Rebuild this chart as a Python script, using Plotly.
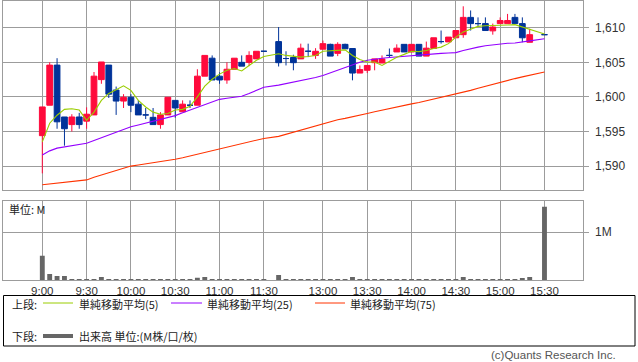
import plotly.graph_objects as go

# ---------------- data ----------------
times_am = ["9:00", "9:05", "9:10", "9:15", "9:20", "9:25", "9:30", "9:35", "9:40", "9:45",
            "9:50", "9:55", "10:00", "10:05", "10:10", "10:15", "10:20", "10:25", "10:30", "10:35",
            "10:40", "10:45", "10:50", "10:55", "11:00", "11:05", "11:10", "11:15", "11:20", "11:25",
            "11:30"]
times_pm = ["12:30", "12:35", "12:40", "12:45", "12:50", "12:55", "13:00", "13:05", "13:10", "13:15",
            "13:20", "13:25", "13:30", "13:35", "13:40", "13:45", "13:50", "13:55", "14:00", "14:05",
            "14:10", "14:15", "14:20", "14:25", "14:30", "14:35", "14:40", "14:45", "14:50", "14:55",
            "15:00", "15:05", "15:10", "15:15", "15:20", "15:30"]
times = times_am + times_pm

opens = [1594.4, 1598.8, 1604.6, 1597.1, 1596.0, 1597.1, 1596.5, 1597.4, 1602.5, 1604.6,
         1601.0, 1599.4, 1599.95, 1598.95, 1597.4, 1597.05, 1596.0, 1597.4, 1599.5, 1597.85,
         1598.8, 1598.8, 1603.0, 1605.6, 1603.0, 1602.45, 1604.0, 1605.0, 1605.0, 1605.5,
         1606.6,
         1608.0, 1605.55, 1605.7, 1605.5, 1606.6, 1606.0, 1606.9, 1607.6, 1606.3, 1607.6,
         1607.0, 1603.45, 1603.85, 1604.95, 1604.9, 1606.0, 1606.5, 1607.6, 1606.5, 1607.6,
         1605.9, 1607.0, 1608.0, 1607.95, 1608.55, 1609.0, 1611.5, 1610.6, 1610.6, 1609.55,
         1610.6, 1610.6, 1611.5, 1610.6, 1607.9, 1609.0]
highs = [1598.55, 1605.0, 1605.6, 1597.1, 1597.5, 1597.7, 1598.5, 1603.6, 1605.05, 1604.6,
         1601.5, 1600.4, 1600.4, 1599.5, 1598.4, 1598.4, 1597.8, 1599.95, 1599.5, 1599.5,
         1599.5, 1604.0, 1606.0, 1606.0, 1603.55, 1605.0, 1605.6, 1606.0, 1606.6, 1606.6,
         1606.6,
         1610.1, 1606.6, 1606.1, 1607.7, 1607.7, 1607.05, 1608.15, 1607.7, 1607.9, 1607.7,
         1607.0, 1604.55, 1604.55, 1605.5, 1606.0, 1607.0, 1607.6, 1607.6, 1607.6, 1607.6,
         1608.0, 1608.55, 1609.6, 1608.65, 1609.6, 1613.1, 1612.5, 1611.5, 1611.5, 1610.6,
         1611.5, 1612.0, 1612.0, 1611.5, 1609.85, 1609.0]
lows = [1588.95, 1598.8, 1595.4, 1592.95, 1595.0, 1595.4, 1595.4, 1597.4, 1601.9, 1599.85,
        1597.4, 1598.4, 1597.8, 1597.4, 1596.8, 1596.0, 1595.4, 1597.4, 1597.0, 1597.85,
        1598.4, 1598.8, 1603.0, 1602.45, 1601.9, 1601.9, 1604.0, 1604.45, 1604.45, 1605.5,
        1606.6,
        1604.4, 1604.55, 1603.85, 1605.5, 1605.75, 1605.5, 1606.9, 1605.9, 1605.9, 1606.95,
        1602.4, 1603.45, 1603.45, 1603.85, 1604.9, 1605.75, 1606.5, 1606.5, 1606.5, 1605.9,
        1605.9, 1607.0, 1607.7, 1607.95, 1608.55, 1608.55, 1609.6, 1610.1, 1609.6, 1609.0,
        1610.6, 1610.6, 1610.6, 1607.9, 1607.9, 1609.0]
closes = [1598.55, 1604.6, 1596.4, 1595.4, 1597.1, 1596.0, 1597.5, 1603.0, 1605.05, 1600.4,
          1599.4, 1599.95, 1598.8, 1597.4, 1597.4, 1596.0, 1597.4, 1599.95, 1598.4, 1598.95,
          1598.8, 1603.0, 1606.0, 1602.45, 1602.45, 1604.0, 1605.6, 1604.45, 1606.0, 1606.6,
          1606.6,
          1604.95, 1605.55, 1604.95, 1607.05, 1606.6, 1606.6, 1607.7, 1605.9, 1607.6, 1606.95,
          1603.45, 1603.95, 1604.55, 1605.5, 1605.5, 1606.0, 1607.05, 1606.5, 1607.6, 1605.9,
          1607.05, 1608.55, 1608.0, 1608.65, 1609.6, 1611.5, 1610.6, 1610.6, 1609.6, 1610.1,
          1611.05, 1611.05, 1610.6, 1608.55, 1609.0, 1609.0]

ma5 = [1593.5, 1596.2, 1597.35, 1598.2, 1598.3, 1598.1, 1596.6, 1597.8, 1599.5, 1600.5,
       1601.05, 1601.6, 1600.95, 1599.5, 1598.55, 1597.8, 1597.5, 1597.6, 1598.1, 1598.2,
       1598.65, 1600.0, 1601.55, 1602.55, 1603.3, 1603.85, 1604.1, 1603.75, 1604.55, 1605.3,
       1605.85,
       1606.25, 1606.0, 1605.85, 1605.75, 1605.85, 1606.0, 1606.6, 1606.7, 1606.8, 1606.8,
       1606.0, 1605.4, 1605.05, 1605.05, 1604.55, 1605.2, 1605.75, 1606.15, 1606.6, 1606.55,
       1606.7, 1607.0, 1607.2, 1607.7, 1608.65, 1609.4, 1609.85, 1610.2, 1610.3, 1610.3,
       1610.4, 1610.4, 1610.45, 1610.1, 1609.7, 1609.1]
ma25 = [1591.6, 1592.2, 1592.6, 1592.8, 1592.95, 1593.1, 1593.3, 1593.7, 1594.1, 1594.5,
        1594.9, 1595.3, 1595.7, 1595.95, 1596.2, 1596.5, 1596.75, 1597.0, 1597.3, 1597.7,
        1598.1, 1598.5, 1598.9, 1599.3, 1599.65, 1599.8, 1599.9, 1600.1, 1600.5, 1600.95,
        1601.4,
        1601.7, 1601.9, 1602.1, 1602.4, 1602.6, 1602.8, 1603.1, 1603.5, 1603.9, 1604.3,
        1604.7, 1605.0, 1605.3, 1605.5, 1605.6, 1605.7, 1605.8, 1605.9, 1606.0, 1606.05,
        1606.1, 1606.2, 1606.3, 1606.35, 1606.4, 1606.7, 1607.0, 1607.2, 1607.4, 1607.55,
        1607.7, 1607.75, 1607.8, 1607.9, 1608.1, 1608.4]
ma75 = [1587.3, 1587.4, 1587.5, 1587.6, 1587.7, 1587.8, 1588.0, 1588.4, 1588.7, 1589.0,
        1589.3, 1589.6, 1590.0, 1590.15, 1590.3, 1590.5, 1590.65, 1590.8, 1591.0, 1591.2,
        1591.45, 1591.7, 1591.95, 1592.2, 1592.45, 1592.7, 1592.95, 1593.2, 1593.5, 1593.75,
        1594.0,
        1594.3, 1594.6, 1594.9, 1595.3, 1595.6, 1595.9, 1596.2, 1596.45, 1596.7, 1596.9,
        1597.1, 1597.35, 1597.6, 1597.85, 1598.1, 1598.35, 1598.55, 1598.8, 1599.0, 1599.2,
        1599.45, 1599.65, 1599.85, 1600.1, 1600.35, 1600.65, 1600.95, 1601.25, 1601.55, 1601.85,
        1602.15, 1602.4, 1602.65, 1602.9, 1603.15, 1603.6]

volume_m = [0.51, 0.126, 0.084, 0.084, 0.021, 0.021, 0.021, 0.021, 0.063, 0.021,
            0.021, 0.021, 0.021, 0.006, 0.006, 0.006, 0.006, 0.021, 0.006, 0.006,
            0.006, 0.049, 0.063, 0.021, 0.006, 0.021, 0.006, 0.021, 0.021, 0.006,
            0.021,
            0.105, 0.021, 0.006, 0.021, 0.006, 0.021, 0.006, 0.006, 0.006, 0.021,
            0.063, 0.006, 0.006, 0.021, 0.021, 0.021, 0.006, 0.006, 0.006, 0.006,
            0.021, 0.021, 0.021, 0.006, 0.021, 0.063, 0.021, 0.021, 0.021, 0.006,
            0.021, 0.021, 0.021, 0.042, 0.063, 1.537]

tick_times = ["9:00", "9:30", "10:00", "10:30", "11:00", "11:30",
              "13:00", "13:30", "14:00", "14:30", "15:00", "15:30"]
price_ticks = [1590, 1595, 1600, 1605, 1610]
vol_ticks = [1]
vol_tick_text = ["1M"]


# ---------------- helpers ----------------
def slot(t):
    """Position of a 5-minute bar on the session grid (lunch break compressed)."""
    h, m = map(int, t.split(":"))
    mins = h * 60 + m
    if mins <= 11 * 60 + 30:
        return (mins - 9 * 60) / 5
    return 32 + (mins - (12 * 60 + 30)) / 5


x = [slot(t) for t in times]
tick_pos = [slot(t) for t in tick_times]

W, H = 638, 362


def px(v):
    return v / W


def py(v):
    return 1 - v / H


RED = "#ff0a3c"
BLUE = "#003399"
GRID = "#9c9c9c"
FONT = "Noto Sans CJK JP"
NUMFONT = "Liberation Sans"

fig = go.Figure()

# candles (up / down), doji drawn separately in blue
idx_move = [i for i in range(len(x)) if closes[i] != opens[i]]
idx_doji = [i for i in range(len(x)) if closes[i] == opens[i]]


def pick(arr, idx):
    return [arr[i] for i in idx]


fig.add_trace(go.Candlestick(
    x=pick(x, idx_move), open=pick(opens, idx_move), high=pick(highs, idx_move),
    low=pick(lows, idx_move), close=pick(closes, idx_move),
    increasing=dict(line=dict(color=RED, width=1), fillcolor=RED),
    decreasing=dict(line=dict(color=BLUE, width=1), fillcolor=BLUE),
    whiskerwidth=0, showlegend=False, hoverinfo="skip",
    xaxis="x", yaxis="y"))
fig.add_trace(go.Candlestick(
    x=pick(x, idx_doji), open=pick(opens, idx_doji), high=pick(highs, idx_doji),
    low=pick(lows, idx_doji), close=pick(closes, idx_doji),
    increasing=dict(line=dict(color=BLUE, width=1), fillcolor=BLUE),
    decreasing=dict(line=dict(color=BLUE, width=1), fillcolor=BLUE),
    whiskerwidth=0, showlegend=False, hoverinfo="skip",
    xaxis="x", yaxis="y"))

for vals, col in [(ma75, "#ff3300"), (ma25, "#9400ff"), (ma5, "#9acd00")]:
    fig.add_trace(go.Scatter(x=x, y=vals, mode="lines", line=dict(color=col, width=1.1),
                             showlegend=False, hoverinfo="skip", xaxis="x", yaxis="y"))

fig.add_trace(go.Bar(x=x, y=volume_m, width=0.66, marker=dict(color="#666666", line=dict(width=0)),
                     showlegend=False, hoverinfo="skip", xaxis="x2", yaxis="y2"))

xr = [(3.3 - 42.3) / 7.385, (582.7 - 42.3) / 7.385]
xdom = [px(3.3), px(582.7)]

axis_common = dict(showline=True, mirror=True, linecolor=GRID, linewidth=1,
                   showgrid=True, gridcolor=GRID, gridwidth=1, zeroline=False)

fig.update_layout(
    width=W, height=H, autosize=False,
    margin=dict(l=0, r=0, t=0, b=0),
    paper_bgcolor="white", plot_bgcolor="white",
    font=dict(family=FONT, size=11, color="#222"),
    boxgap=0.22, boxgroupgap=0,
    xaxis=dict(domain=xdom, range=xr, tickmode="array", tickvals=tick_pos,
               showticklabels=False, ticks="", anchor="y",
               rangeslider=dict(visible=False), **axis_common),
    yaxis=dict(domain=[py(190.3), py(0.5)], range=[1586.5, 1613.94], side="right",
               tickmode="array", tickvals=price_ticks, tickformat=",d",
               ticks="outside", ticklen=5, tickcolor=GRID, ticklabelstandoff=4,
               tickfont=dict(family=NUMFONT, size=12, color="#333"), anchor="x", **axis_common),
    xaxis2=dict(domain=xdom, range=xr, tickmode="array", tickvals=tick_pos, ticktext=tick_times,
                ticks="", ticklabelstandoff=0,
                tickfont=dict(family=NUMFONT, size=11.5, color="#333"), anchor="y2", **axis_common),
    yaxis2=dict(domain=[py(280), py(201)], range=[0, 1.656], side="right",
                tickmode="array", tickvals=vol_ticks, ticktext=vol_tick_text,
                ticks="outside", ticklen=5, tickcolor=GRID, ticklabelstandoff=4,
                tickfont=dict(family=NUMFONT, size=12, color="#333"), anchor="x2", **axis_common),
)

# legend box and samples (decoration)
shapes = [
    dict(type="rect", xref="paper", yref="paper", x0=px(3.5), x1=px(635), y0=py(346), y1=py(295.5),
         line=dict(color="#000", width=1), fillcolor="rgba(0,0,0,0)"),
    dict(type="line", xref="paper", yref="paper", x0=px(43), x1=px(73), y0=py(303), y1=py(303),
         line=dict(color="#9acd00", width=1)),
    dict(type="line", xref="paper", yref="paper", x0=px(171), x1=px(202), y0=py(303), y1=py(303),
         line=dict(color="#9400ff", width=1)),
    dict(type="line", xref="paper", yref="paper", x0=px(315), x1=px(345), y0=py(303), y1=py(303),
         line=dict(color="#ff3300", width=1)),
    dict(type="line", xref="paper", yref="paper", x0=px(43), x1=px(73), y0=py(336), y1=py(336),
         line=dict(color="#666666", width=4)),
]
fig.update_layout(shapes=shapes)


def label(text, x0, y0, anchor="left", color="#222", size=11, family=FONT):
    fig.add_annotation(text=text, xref="paper", yref="paper", x=px(x0), y=py(y0),
                       xanchor=anchor, yanchor="middle", showarrow=False,
                       font=dict(family=family, size=size, color=color), borderpad=0)


label("単位: M", 8, 209)
label("上段:", 11, 304)
label("単純移動平均(5)", 78, 304)
label("単純移動平均(25)", 206, 304)
label("単純移動平均(75)", 349, 304)
label("下段:", 11, 336)
label("出来高 単位:(M株/口/枚)", 78, 336)
label("(c)Quants Research Inc.", 617, 354.5, anchor="right", color="#555", size=11.5, family=NUMFONT)

fig.write_html("out.html", config={"displayModeBar": False},
               post_script="document.body.style.margin='0';document.body.style.overflow='hidden';")
